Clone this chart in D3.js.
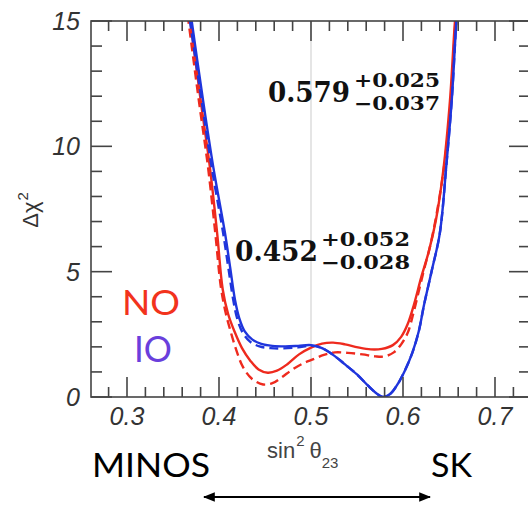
<!DOCTYPE html>
<html>
<head>
<meta charset="utf-8">
<script src="https://d3js.org/d3.v7.min.js"></script>
<style>
  body { margin: 0; background: #fff; }
  svg { display: block; }
</style>
</head>
<body>
<svg id="chart" width="528" height="506"></svg>
<script>
// tick values
const xTicks = [0.3, 0.4, 0.5, 0.6, 0.7];
const yTicks = [0, 5, 10, 15];

// NO (normal ordering), solid
const noSolidX = [0.366, 0.380, 0.390, 0.398, 0.404, 0.410, 0.417, 0.425, 0.434, 0.443, 0.453, 0.463, 0.474, 0.487, 0.500, 0.512, 0.524, 0.537, 0.551, 0.565, 0.577, 0.589, 0.598, 0.605, 0.612, 0.620, 0.628, 0.636, 0.644, 0.651, 0.6565, 0.660];
const noSolidY = [15.8, 11.85, 9.19, 6.53, 4.3, 3.3, 2.6, 1.95, 1.45, 1.1, 0.97, 1.05, 1.3, 1.7, 1.97, 2.13, 2.17, 2.1, 1.98, 1.9, 1.92, 2.07, 2.4, 2.9, 3.7, 4.8, 5.8, 7.1, 9.1, 11.8, 15, 16.5];
// NO, dashed
const noDashX = [0.364, 0.378, 0.388, 0.396, 0.402, 0.407, 0.412, 0.419, 0.426, 0.436, 0.448, 0.458, 0.468, 0.480, 0.492, 0.502, 0.514, 0.526, 0.540, 0.556, 0.570, 0.580, 0.590, 0.598, 0.605, 0.611, 0.617, 0.623, 0.630, 0.637, 0.645, 0.652, 0.657, 0.660];
const noDashY = [15.8, 11.85, 9.19, 6.53, 4.4, 3.4, 2.7, 1.85, 1.2, 0.72, 0.5, 0.55, 0.78, 1.1, 1.35, 1.5, 1.68, 1.78, 1.76, 1.7, 1.62, 1.62, 1.78, 2.1, 2.55, 3.3, 4.2, 5.1, 6.1, 7.4, 9.3, 11.8, 15, 16.5];
// IO (inverted ordering), solid
const ioSolidX = [0.368, 0.3826, 0.3938, 0.4065, 0.412, 0.4174, 0.422, 0.428, 0.436, 0.446, 0.458, 0.472, 0.486, 0.500, 0.512, 0.524, 0.537, 0.550, 0.562, 0.571, 0.578, 0.586, 0.594, 0.602, 0.610, 0.617, 0.623, 0.631, 0.640, 0.647, 0.653, 0.658, 0.661];
const ioSolidY = [15.6, 11.85, 9.17, 6.54, 5.2, 3.87, 3.15, 2.62, 2.3, 2.12, 2.04, 2.02, 2.04, 2.07, 1.95, 1.68, 1.3, 0.9, 0.45, 0.15, 0.0, 0.12, 0.5, 1.05, 1.75, 2.6, 3.7, 5.0, 6.53, 9.19, 11.85, 15, 16.5];
// IO, dashed
const ioDashX = [0.366, 0.381, 0.392, 0.4045, 0.410, 0.4155, 0.420, 0.426, 0.434, 0.444, 0.456, 0.470, 0.486, 0.500, 0.512, 0.524, 0.537, 0.550, 0.562, 0.571, 0.578, 0.586, 0.594, 0.602, 0.610, 0.617, 0.623, 0.631, 0.640, 0.647, 0.653, 0.658, 0.661];
const ioDashY = [15.6, 11.85, 9.17, 6.54, 5.2, 3.87, 3.1, 2.55, 2.2, 2.02, 1.95, 1.94, 1.98, 2.05, 1.95, 1.68, 1.3, 0.9, 0.45, 0.15, 0.0, 0.12, 0.5, 1.05, 1.75, 2.6, 3.7, 5.0, 6.53, 9.19, 11.85, 15, 16.5];

const RED = "#ee2a1e", BLUE = "#1f35dc";

const svg = d3.select("#chart");
const pLeft = 91, pRight = 530, pTop = 21, pBottom = 397;

const x = d3.scaleLinear().domain([0.3 - 36 / 920, 0.3 + (pRight - 127) / 920]).range([pLeft, pRight]);
const y = d3.scaleLinear().domain([0, 15]).range([pBottom, pTop]);

// grey reference line at 0.5
svg.append("line")
  .attr("x1", x(0.5)).attr("x2", x(0.5))
  .attr("y1", pTop).attr("y2", pBottom)
  .attr("stroke", "#dcdcdc").attr("stroke-width", 1.5);

// clip for curves
svg.append("clipPath").attr("id", "clip")
  .append("rect").attr("x", pLeft).attr("y", pTop)
  .attr("width", pRight - pLeft).attr("height", pBottom - pTop);

const line = d3.line()
  .x(d => x(d[0])).y(d => y(d[1]))
  .curve(d3.curveCatmullRom.alpha(0.5));

const curves = [
  [noDashX, noDashY, RED, "9,5"],
  [noSolidX, noSolidY, RED, null],
  [ioDashX, ioDashY, BLUE, "9,5"],
  [ioSolidX, ioSolidY, BLUE, null]
];
const g = svg.append("g").attr("clip-path", "url(#clip)");
curves.forEach(c => {
  g.append("path")
    .attr("d", line(d3.zip(c[0], c[1])))
    .attr("fill", "none")
    .attr("stroke", c[2])
    .attr("stroke-width", 2.4)
    .attr("stroke-dasharray", c[3]);
});

// axes: ticks inward on all four sides
const axisColor = "#444";
const xMinor = d3.range(0.28, 0.741, 0.02).map(v => +v.toFixed(2));
const yMinor = d3.range(0, 15.01, 1);

const ax = svg.append("g");
ax.append("rect")
  .attr("x", pLeft).attr("y", pTop)
  .attr("width", pRight - pLeft).attr("height", pBottom - pTop)
  .attr("fill", "none").attr("stroke", axisColor).attr("stroke-width", 1.6);

function isMajorX(v) { return Math.abs(v * 10 - Math.round(v * 10)) < 1e-6; }
xMinor.forEach(v => {
  const len = isMajorX(v) ? 20 : 10;
  ax.append("line").attr("x1", x(v)).attr("x2", x(v))
    .attr("y1", pBottom).attr("y2", pBottom - len)
    .attr("stroke", axisColor).attr("stroke-width", 1.6);
  ax.append("line").attr("x1", x(v)).attr("x2", x(v))
    .attr("y1", pTop).attr("y2", pTop + len)
    .attr("stroke", axisColor).attr("stroke-width", 1.6);
});
yMinor.forEach(v => {
  const len = v % 5 === 0 ? 21 : 11;
  ax.append("line").attr("x1", pLeft).attr("x2", pLeft + len)
    .attr("y1", y(v)).attr("y2", y(v))
    .attr("stroke", axisColor).attr("stroke-width", 1.6);
  ax.append("line").attr("x1", pRight).attr("x2", pRight - len)
    .attr("y1", y(v)).attr("y2", y(v))
    .attr("stroke", axisColor).attr("stroke-width", 1.6);
});

// tick labels
const tickFont = "'Liberation Sans', Arial, sans-serif";
ax.selectAll(".xl").data(xTicks).enter().append("text")
  .attr("x", d => x(d)).attr("y", 425)
  .attr("text-anchor", "middle")
  .attr("font-family", tickFont).attr("font-style", "italic")
  .attr("font-size", 25).attr("fill", "#333")
  .text(d => d.toFixed(1));
ax.selectAll(".yl").data(yTicks).enter().append("text")
  .attr("x", 80).attr("y", d => y(d) + 9)
  .attr("text-anchor", "end")
  .attr("font-family", tickFont).attr("font-style", "italic")
  .attr("font-size", 25).attr("fill", "#333")
  .text(d => d);

// y-axis title
const yt = svg.append("text")
  .attr("transform", "translate(38,210) rotate(-90)")
  .attr("text-anchor", "middle")
  .attr("font-family", tickFont).attr("font-size", 22).attr("fill", "#333");
yt.append("tspan").text("Δχ");
yt.append("tspan").attr("font-size", 15).attr("dy", -10).attr("dx", 1).text("2");

// x-axis title
const xt = svg.append("text")
  .attr("x", 267).attr("y", 458)
  .attr("font-family", tickFont).attr("font-size", 22).attr("fill", "#444");
xt.append("tspan").text("sin");
xt.append("tspan").attr("font-size", 15).attr("dy", -12).attr("dx", 1).text("2");
xt.append("tspan").attr("dy", 12).attr("dx", 5).text("θ");
xt.append("tspan").attr("font-size", 15).attr("dy", 10).text("23");

// MINOS / SK and arrow
const labFont = "Lato, 'Open Sans', sans-serif";
svg.append("text").attr("x", 92).attr("y", 477)
  .attr("font-family", labFont).attr("font-size", 33).attr("fill", "#000")
  .attr("textLength", 118).attr("lengthAdjust", "spacingAndGlyphs")
  .text("MINOS");
svg.append("text").attr("x", 431).attr("y", 477)
  .attr("font-family", labFont).attr("font-size", 33).attr("fill", "#000")
  .attr("textLength", 41).attr("lengthAdjust", "spacingAndGlyphs")
  .text("SK");

const defs = svg.append("defs");
defs.append("marker").attr("id", "ah").attr("viewBox", "0 0 10 10")
  .attr("refX", 9).attr("refY", 5).attr("markerWidth", 6).attr("markerHeight", 6)
  .attr("orient", "auto-start-reverse")
  .append("path").attr("d", "M0,1 L10,5 L0,9 z").attr("fill", "#000");
svg.append("line").attr("x1", 204).attr("x2", 430).attr("y1", 497).attr("y2", 497)
  .attr("stroke", "#000").attr("stroke-width", 2)
  .attr("marker-start", "url(#ah)").attr("marker-end", "url(#ah)");

// NO / IO legend
svg.append("text").attr("x", 122).attr("y", 315)
  .attr("font-family", labFont).attr("font-size", 35).attr("fill", "#f2331c")
  .attr("textLength", 58).attr("lengthAdjust", "spacingAndGlyphs")
  .text("NO");
svg.append("text").attr("x", 134).attr("y", 362)
  .attr("font-family", labFont).attr("font-size", 37).attr("fill", "#6a3fdc")
  .attr("textLength", 38).attr("lengthAdjust", "spacingAndGlyphs")
  .text("IO");

// best-fit annotations
const serif = "'DejaVu Serif', 'Liberation Serif', serif";
function annot(x0, base, w, main, up, lo, sx, sw) {
  svg.append("text").attr("x", x0).attr("y", base)
    .attr("font-family", serif).attr("font-weight", "bold").attr("font-size", 28)
    .attr("fill", "#111").attr("textLength", w).attr("lengthAdjust", "spacingAndGlyphs")
    .text(main);
  svg.append("text").attr("x", sx).attr("y", base - 15)
    .attr("font-family", serif).attr("font-weight", "bold").attr("font-size", 19)
    .attr("fill", "#111").attr("textLength", sw).attr("lengthAdjust", "spacingAndGlyphs")
    .text(up);
  svg.append("text").attr("x", sx).attr("y", base + 8)
    .attr("font-family", serif).attr("font-weight", "bold").attr("font-size", 19)
    .attr("fill", "#111").attr("textLength", sw).attr("lengthAdjust", "spacingAndGlyphs")
    .text(lo);
}
annot(268, 102, 82, "0.579", "+0.025", "−0.037", 354, 86);
annot(235, 261, 83, "0.452", "+0.052", "−0.028", 321, 89);
</script>
</body>
</html>
